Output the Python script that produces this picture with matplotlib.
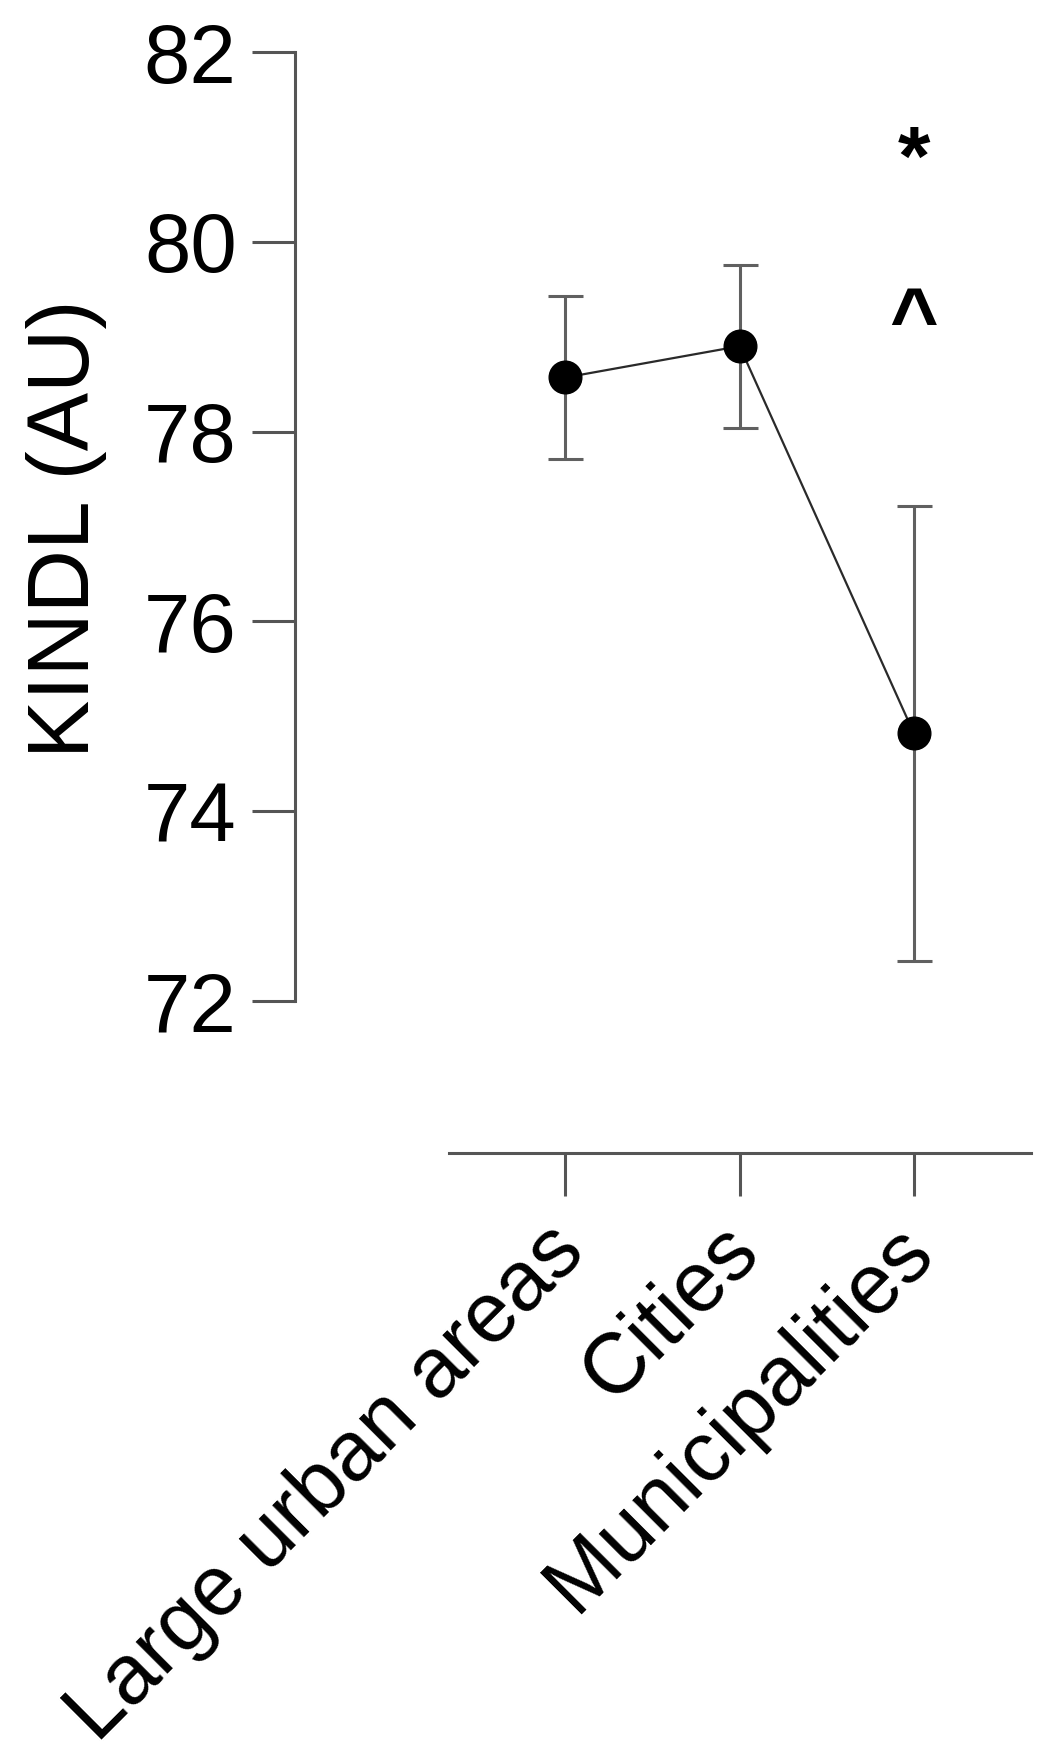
import matplotlib
matplotlib.use("Agg")
import matplotlib.pyplot as plt
from matplotlib.transforms import ScaledTranslation, blended_transform_factory

# Data
categories = ["Large urban areas", "Cities", "Municipalities"]
means = [78.57, 78.90, 74.82]
errors = [0.86, 0.86, 2.40]
yticks = [72, 74, 76, 78, 80, 82]
annotations = ["*", "^"]
annotation_y = [80.83, 79.13]

plt.rcParams['font.family'] = ['Liberation Sans', 'DejaVu Sans']

W, H, DPI = 1058, 1762, 100
fig = plt.figure(figsize=(W / DPI, H / DPI), dpi=DPI)
ax = fig.add_axes([295 / W, 1 - 1153 / H, (1031 - 295) / W, (1153 - 52) / H])

x = list(range(len(categories)))
spine_col = "#555555"
ax.errorbar(x, means, yerr=errors, fmt="none", ecolor="#606060",
            elinewidth=2.2, capsize=12.6, capthick=2.2, zorder=2)
ax.plot(x, means, color="#2a2a2a", lw=1.6, zorder=3)
ax.plot(x, means, "o", color="black", markersize=23.5, zorder=4)

for s, yv in zip(annotations, annotation_y):
    ax.text(2, yv, s, ha="center", va="center", fontsize=60, color="black",
            fontweight="bold")

ax.set_xlim(-1.551, 2.672)
ax.set_ylim(70.398, 82)
ax.set_yticks(yticks)
ax.set_yticklabels([str(t) for t in yticks], fontsize=60)
ax.set_xticks(x)
ax.set_xticklabels([])

# rotated category labels, anchored below each tick
lab_tr = blended_transform_factory(ax.transData, ax.transAxes) + \
    ScaledTranslation(-22 / DPI, -57 / DPI, fig.dpi_scale_trans)
for xi, lab in zip(x, categories):
    ax.text(xi, 0, lab, transform=lab_tr, fontsize=61, rotation=45,
            ha="right", va="top", rotation_mode="anchor", clip_on=False)

for side in ["top", "right"]:
    ax.spines[side].set_visible(False)
ax.spines["left"].set_bounds(72, 82)
ax.spines["bottom"].set_bounds(-0.666, 2.672)
for side in ["left", "bottom"]:
    ax.spines[side].set_color(spine_col)
    ax.spines[side].set_linewidth(2.2)

ax.tick_params(axis="y", length=31, width=2.2, color=spine_col, pad=11)
ax.tick_params(axis="x", length=31, width=2.2, color=spine_col)

fig.text(67 / W, 1 - 529 / H, "KINDL (AU)", rotation=90, ha="center",
         va="center", fontsize=63, color="black")

fig.savefig("out.png", dpi=DPI, facecolor="white")
